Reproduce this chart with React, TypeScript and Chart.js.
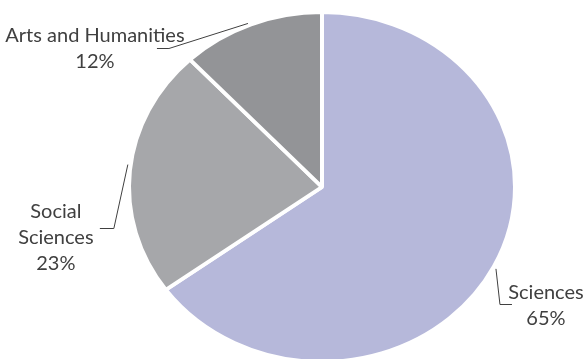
import React, { useEffect, useRef } from 'react';
import { Chart, registerables } from 'chart.js';

Chart.register(...registerables);

// ---- data ----
const categories = ['Sciences', 'Social Sciences', 'Arts and Humanities'];
const shares = [65, 23, 12];
const labelLines = [['Sciences'], ['Social', 'Sciences'], ['Arts and Humanities']];
const sliceColors = ['#b6b8da', '#a6a7aa', '#939497'];

// ---- layout / style ----
const SQUASH = 173 / 191; // vertical/horizontal ratio of the (elliptical) pie
const TEXT_COLOR = '#404040';
const FONT = '20px Lato';
const LINE_H = 26;
// offsets (screen px) relative to the slice's mid-angle point on the rim
const LABEL_LAYOUT = [
  { start: [2, 2.5], elbow: [6, 37.5], end: [18, 37.5], text: [52, 32.5] },
  { start: [-2, -6], elbow: [-16, 57], end: [-30, 57], text: [-74, 47] },
  { start: [-3, -1], elbow: [-82, 24], end: [-94, 24], text: [-156, 18] },
];

const squashPlugin = {
  id: 'squash',
  beforeDatasetsDraw(chart: any) {
    const el = chart.getDatasetMeta(0).data[0];
    const cy = el.y;
    const ctx = chart.ctx;
    ctx.save();
    ctx.translate(0, cy);
    ctx.scale(1, SQUASH);
    ctx.translate(0, -cy);
  },
  afterDatasetsDraw(chart: any) {
    chart.ctx.restore();
  },
};

const labelPlugin = {
  id: 'sliceLabels',
  afterDraw(chart: any) {
    const ctx = chart.ctx;
    const meta = chart.getDatasetMeta(0);
    const total = shares.reduce((a, b) => a + b, 0);
    meta.data.forEach((el: any, i: number) => {
      const { x, y, startAngle, endAngle, outerRadius } = el.getProps(
        ['x', 'y', 'startAngle', 'endAngle', 'outerRadius'],
        true
      );
      const mid = (startAngle + endAngle) / 2;
      const ax = x + Math.cos(mid) * outerRadius;
      const ay = y + Math.sin(mid) * outerRadius * SQUASH;
      const L = LABEL_LAYOUT[i];
      ctx.save();
      ctx.strokeStyle = TEXT_COLOR;
      ctx.lineWidth = 1;
      ctx.beginPath();
      ctx.moveTo(ax + L.start[0], ay + L.start[1]);
      ctx.lineTo(ax + L.elbow[0], Math.round(ay + L.elbow[1]) + 0.5);
      ctx.lineTo(ax + L.end[0], Math.round(ay + L.end[1]) + 0.5);
      ctx.stroke();

      ctx.fillStyle = TEXT_COLOR;
      ctx.font = FONT;
      ctx.textAlign = 'center';
      ctx.textBaseline = 'alphabetic';
      const lines = [...labelLines[i], Math.round((shares[i] / total) * 100) + '%'];
      const tx = ax + L.text[0];
      const ty = ay + L.text[1];
      lines.forEach((t, k) => ctx.fillText(t, tx, ty + k * LINE_H));
      ctx.restore();
    });
  },
};

export default function App() {
  const ref = useRef<HTMLCanvasElement>(null);
  useEffect(() => {
    if (!ref.current) return;
    const chart = new Chart(ref.current, {
      type: 'pie',
      data: {
        labels: categories,
        datasets: [
          {
            data: shares,
            backgroundColor: sliceColors,
            borderColor: '#ffffff',
            borderWidth: 4,
            hoverOffset: 0,
            clip: false as any,
          },
        ],
      },
      options: {
        responsive: false,
        animation: false,
        events: [],
        radius: 193,
        layout: { padding: { left: 131, right: 72, top: 15, bottom: 0 } },
        plugins: {
          legend: { display: false },
          tooltip: { enabled: false },
        },
      } as any,
      plugins: [squashPlugin, labelPlugin],
    });
    return () => chart.destroy();
  }, []);
  return (
    <div style={{ position: 'absolute', left: 0, top: 0, width: 585, height: 359, background: '#fff' }}>
      <canvas ref={ref} width={585} height={359} style={{ width: 585, height: 359, display: 'block' }} />
    </div>
  );
}
